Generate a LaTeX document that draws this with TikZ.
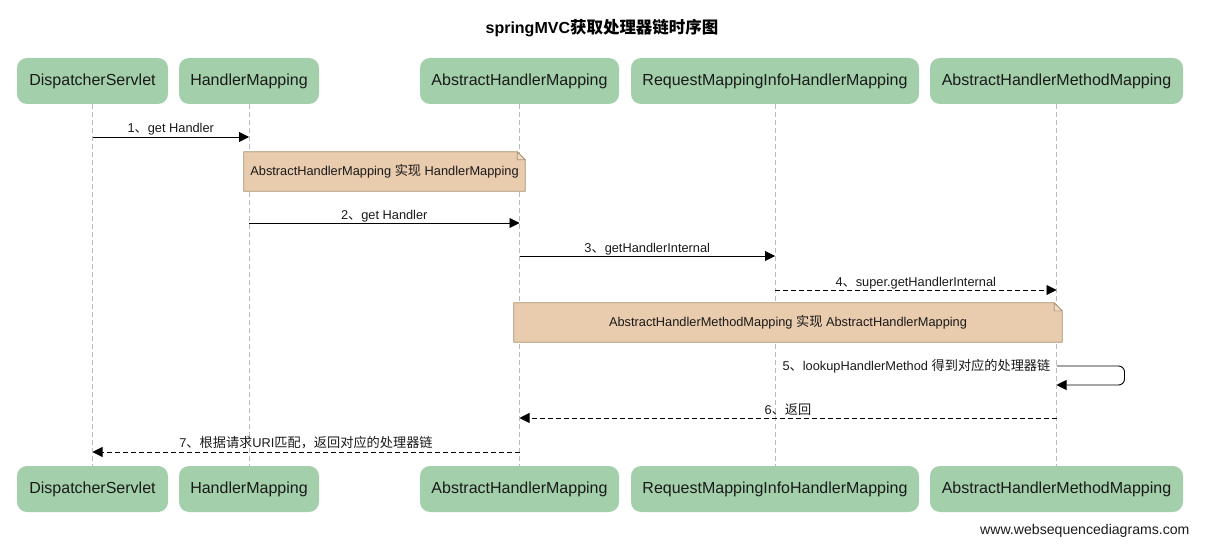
\documentclass[tikz,border=0pt]{standalone}
\usepackage{fontspec}
\setmainfont{Liberation Sans}
\newfontfamily\cjk[Scale=1.03]{Noto Sans CJK SC}
\usetikzlibrary{arrows.meta}
\definecolor{actorgreen}{HTML}{A3D0AA}
\definecolor{notefill}{HTML}{E9CBAE}
\definecolor{notedraw}{HTML}{A8906E}
\definecolor{foldfill}{HTML}{F0DCC8}
\definecolor{lifegray}{HTML}{BBBBBB}
\definecolor{txt}{HTML}{1A1A1A}
\begin{document}
\begin{tikzpicture}[x=1pt,y=-1pt,
  actor/.style={fill=actorgreen, rounded corners=10pt, minimum height=46pt, inner sep=0pt, text=txt, font=\fontsize{16}{19}\selectfont},
  life/.style={draw=lifegray, line width=0.6pt, dash pattern=on 5pt off 3pt},
  msg/.style={draw=black, line width=0.9pt, -{Triangle[length=10pt,width=10pt]}},
  ret/.style={msg, dash pattern=on 5pt off 3pt},
  lbl/.style={anchor=base, inner sep=0pt, font=\fontsize{12.8}{15}\selectfont, text=txt, yshift=4pt},
  notebox/.style={inner sep=0pt, font=\fontsize{12.8}{15}\selectfont, text=txt},
  notepath/.style={draw=notedraw, fill=notefill, line width=0.8pt},
  foldpath/.style={draw=notedraw, fill=foldfill, line width=0.6pt}
]
\useasboundingbox (0,0) rectangle (1215,548);

% title
\node[font=\bfseries\fontsize{16}{19}\selectfont] (title) at (602,28) {springMVC{\cjk\bfseries 获取处理器链时序图}};

% actors top
\node[actor, minimum width=151pt] (dsT) at (92.5,81) {DispatcherServlet};
\node[actor, minimum width=140pt] (hmT) at (249,81) {HandlerMapping};
\node[actor, minimum width=199pt] (ahmT) at (519.5,81) {AbstractHandlerMapping};
\node[actor, minimum width=288pt] (rmT) at (775,81) {RequestMappingInfoHandlerMapping};
\node[actor, minimum width=253pt] (ahmmT) at (1056.5,81) {AbstractHandlerMethodMapping};
% actors bottom
\node[actor, minimum width=151pt] (dsB) at (92.5,489) {DispatcherServlet};
\node[actor, minimum width=140pt] (hmB) at (249,489) {HandlerMapping};
\node[actor, minimum width=199pt] (ahmB) at (519.5,489) {AbstractHandlerMapping};
\node[actor, minimum width=288pt] (rmB) at (775,489) {RequestMappingInfoHandlerMapping};
\node[actor, minimum width=253pt] (ahmmB) at (1056.5,489) {AbstractHandlerMethodMapping};

% lifelines
\foreach \a in {ds,hm,ahm,rm,ahmm}{
  \draw[life] (\a T.south) -- (\a B.north);
}

% message anchor points
\coordinate (m1a) at (dsT.south |- 0,137);
\coordinate (m1b) at (hmT.south |- 0,137);
\coordinate (m2a) at (hmT.south |- 0,223);
\coordinate (m2b) at (ahmT.south |- 0,223);
\coordinate (m3a) at (ahmT.south |- 0,256);
\coordinate (m3b) at (rmT.south |- 0,256);
\coordinate (m4a) at (rmT.south |- 0,290);
\coordinate (m4b) at (ahmmT.south |- 0,290);
\coordinate (m5a) at (ahmmT.south |- 0,366);
\coordinate (m5b) at (ahmmT.south |- 0,385);
\coordinate (m6a) at (ahmmT.south |- 0,418);
\coordinate (m6b) at (ahmT.south |- 0,418);
\coordinate (m7a) at (ahmT.south |- 0,452);
\coordinate (m7b) at (dsT.south |- 0,452);

% notes
\node[notebox, minimum width=281pt, minimum height=39pt] (n1) at (384.5,171.5) {};
\draw[notepath] (n1.north west) -- ([xshift=-8pt]n1.north east) -- ([yshift=-8pt]n1.north east) -- (n1.south east) -- (n1.south west) -- cycle;
\draw[foldpath] ([xshift=-8pt]n1.north east) -- ([xshift=-8pt,yshift=-8pt]n1.north east) -- ([yshift=-8pt]n1.north east) -- cycle;
\node[notebox] (n1t) at (n1.center) {AbstractHandlerMapping {\cjk 实现} HandlerMapping};

\node[notebox, minimum width=548pt, minimum height=39pt] (n2) at (788,322.5) {};
\draw[notepath] (n2.north west) -- ([xshift=-8pt]n2.north east) -- ([yshift=-8pt]n2.north east) -- (n2.south east) -- (n2.south west) -- cycle;
\draw[foldpath] ([xshift=-8pt]n2.north east) -- ([xshift=-8pt,yshift=-8pt]n2.north east) -- ([yshift=-8pt]n2.north east) -- cycle;
\node[notebox] (n2t) at (n2.center) {AbstractHandlerMethodMapping {\cjk 实现} AbstractHandlerMapping};

% messages
\draw[msg] (m1a) -- node[lbl] {1{\cjk 、}get Handler} (m1b);
\draw[msg] (m2a) -- node[lbl] {2{\cjk 、}get Handler} (m2b);
\draw[msg] (m3a) -- node[lbl] {3{\cjk 、}getHandlerInternal} (m3b);
\draw[ret] (m4a) -- node[lbl] {4{\cjk 、}super.getHandlerInternal} (m4b);
\draw[msg, rounded corners=6pt] (m5a) -- ++(68,0) -- ++(0,19) -- (m5b);
\node[lbl, anchor=base east, yshift=-4pt] (l5) at ([xshift=-6pt,yshift=-4.5pt]m5a) {5{\cjk 、}lookupHandlerMethod {\cjk 得到对应的处理器链}};
\draw[ret] (m6a) -- node[lbl] {6{\cjk 、返回}} (m6b);
\draw[ret] (m7a) -- node[lbl, yshift=1pt] {7{\cjk 、根据请求}URI{\cjk 匹配，返回对应的处理器链}} (m7b);

% footer
\node[font=\fontsize{14.1}{17}\selectfont, anchor=east, text=txt] (footer) at (1193,531) {www.websequencediagrams.com};
\end{tikzpicture}
\end{document}
